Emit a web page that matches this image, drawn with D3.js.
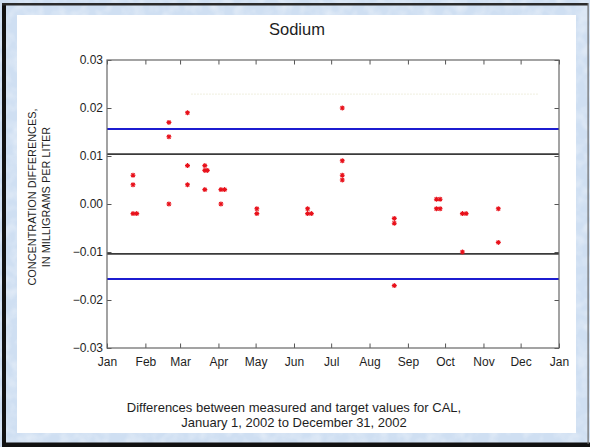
<!DOCTYPE html>
<html>
<head>
<meta charset="utf-8">
<script src="https://cdn.jsdelivr.net/npm/d3@7"></script>
<style>
  html, body { margin: 0; padding: 0; background: #ffffff; }
  svg { display: block; }
  text { font-family: "Liberation Sans", Arial, Helvetica, sans-serif; fill: #1e1e1e; }
</style>
</head>
<body>
<svg id="chart" width="590" height="447"></svg>
<script>
// Sample dates (2002) and measured-minus-target differences, mg/L
const sampleDates = [
  "2002-01-22", "2002-01-22", "2002-01-22", "2002-01-25",
  "2002-02-20", "2002-02-20", "2002-02-20",
  "2002-03-07", "2002-03-07", "2002-03-07",
  "2002-03-21", "2002-03-21", "2002-03-21", "2002-03-23",
  "2002-04-03", "2002-04-03", "2002-04-06",
  "2002-05-02", "2002-05-02",
  "2002-06-12", "2002-06-12", "2002-06-15",
  "2002-07-10", "2002-07-10", "2002-07-10", "2002-07-10",
  "2002-08-21", "2002-08-21", "2002-08-21",
  "2002-09-24", "2002-09-24", "2002-09-27", "2002-09-27",
  "2002-10-15", "2002-10-15", "2002-10-18",
  "2002-11-13", "2002-11-13"
];
const differences = [
  0.006, 0.004, -0.002, -0.002,
  0.017, 0.014, 0.000,
  0.019, 0.008, 0.004,
  0.008, 0.007, 0.003, 0.007,
  0.003, 0.000, 0.003,
  -0.001, -0.002,
  -0.001, -0.002, -0.002,
  0.020, 0.009, 0.006, 0.005,
  -0.003, -0.004, -0.017,
  0.001, -0.001, 0.001, -0.001,
  -0.002, -0.010, -0.002,
  -0.001, -0.008
];

// Reference limits drawn across the year
const innerLimits = [0.0104, -0.0104];
const outerLimits = [0.0156, -0.0156];

// Axis ticks
const yTickValues = [0.03, 0.02, 0.01, 0.00, -0.01, -0.02, -0.03];
const yTickLabels = ["0.03", "0.02", "0.01", "0.00", "\u22120.01", "\u22120.02", "\u22120.03"];
const monthLabels = ["Jan", "Feb", "Mar", "Apr", "May", "Jun", "Jul", "Aug", "Sep", "Oct", "Nov", "Dec", "Jan"];

const titleText = "Sodium";
const yLabelLines = ["CONCENTRATION DIFFERENCES,", "IN MILLIGRAMS PER LITER"];
const footerLines = [
  "Differences between measured and target values for CAL,",
  "January 1, 2002 to December 31, 2002"
];

const svg = d3.select("#chart");
const W = 590, H = 447;

// ---- frame: mottled light-blue backdrop, dark edge, white panel ----
const defs = svg.append("defs");
const f = defs.append("filter").attr("id", "mottle")
  .attr("x", 0).attr("y", 0).attr("width", "100%").attr("height", "100%");
f.append("feTurbulence").attr("type", "fractalNoise")
  .attr("baseFrequency", "0.09").attr("numOctaves", 2).attr("seed", 4);
f.append("feColorMatrix").attr("type", "matrix")
  .attr("values", "0 0 0 0 1  0 0 0 0 1  0 0 0 0 1  0 0 0 1.4 -0.55");

svg.append("rect").attr("width", W).attr("height", H).attr("fill", "#cfdff2");
svg.append("rect").attr("width", W).attr("height", H).attr("filter", "url(#mottle)").attr("opacity", 0.55);

// dark edge on left, top and bottom
svg.append("rect").attr("x", 2).attr("y", 3).attr("width", 4).attr("height", 441).attr("fill", "#111");
svg.append("rect").attr("x", 2).attr("y", 3).attr("width", 586).attr("height", 2.5).attr("fill", "#2a2a2a");
svg.append("rect").attr("x", 2).attr("y", 442.5).attr("width", 588).attr("height", 4.5).attr("fill", "#111");
svg.append("rect").attr("x", 587.5).attr("y", 3).attr("width", 1.2).attr("height", 441).attr("fill", "#6a6a6a");

svg.append("rect").attr("x", 17).attr("y", 15).attr("width", 559).attr("height", 418).attr("fill", "#ffffff");

// ---- plot area ----
const plot = { left: 107, right: 559, top: 60, bottom: 348 };

const x = d3.scaleTime()
  .domain([new Date(2002, 0, 1), new Date(2003, 0, 1)])
  .range([plot.left, plot.right]);
const y = d3.scaleLinear()
  .domain([-0.03, 0.03])
  .range([plot.bottom, plot.top]);

const monthTicks = d3.timeMonth.range(new Date(2002, 0, 1), new Date(2003, 0, 2));
const tickLen = 4.5;

// faint dotted trace in the upper band
svg.append("line")
  .attr("x1", x(new Date(2002, 2, 10))).attr("x2", x(new Date(2002, 11, 15)))
  .attr("y1", y(0.0229)).attr("y2", y(0.0229))
  .attr("stroke", "#efeedd").attr("stroke-width", 1.2)
  .attr("stroke-dasharray", "1.5,1.5");

// limit lines
const limitG = svg.append("g");
limitG.selectAll("line.inner").data(innerLimits).join("line")
  .attr("class", "inner")
  .attr("x1", plot.left).attr("x2", plot.right)
  .attr("y1", d => y(d)).attr("y2", d => y(d))
  .attr("stroke", "#3a3a3a").attr("stroke-width", 1.8);
limitG.selectAll("line.outer").data(outerLimits).join("line")
  .attr("class", "outer")
  .attr("x1", plot.left).attr("x2", plot.right)
  .attr("y1", d => y(d)).attr("y2", d => y(d))
  .attr("stroke", "#1c1cd0").attr("stroke-width", 2);

// axes: inward ticks on all four sides
const fmtMonth = (d, i) => monthLabels[i];
const axisBottom = d3.axisBottom(x).tickValues(monthTicks).tickFormat(fmtMonth)
  .tickSizeInner(-tickLen).tickSizeOuter(0).tickPadding(10);
const axisTop = d3.axisTop(x).tickValues(monthTicks).tickFormat("")
  .tickSizeInner(-tickLen).tickSizeOuter(0);
const axisLeft = d3.axisLeft(y).tickValues(yTickValues)
  .tickFormat((d, i) => yTickLabels[i])
  .tickSizeInner(-tickLen).tickSizeOuter(0).tickPadding(4);
const axisRight = d3.axisRight(y).tickValues(yTickValues).tickFormat("")
  .tickSizeInner(-tickLen).tickSizeOuter(0);

function styleAxis(g) {
  g.select(".domain").remove();
  g.selectAll(".tick line").attr("stroke", "#555").attr("stroke-width", 1);
  g.selectAll(".tick text")
    .style("font-family", "'Liberation Sans', Arial, sans-serif")
    .style("font-size", "12px").attr("fill", "#1e1e1e");
}

svg.append("g").attr("transform", `translate(0,${plot.bottom})`).call(axisBottom).call(styleAxis)
  .selectAll(".tick text").attr("dy", "0.71em").attr("y", 9.5);
svg.append("g").attr("transform", `translate(0,${plot.top})`).call(axisTop).call(styleAxis);
svg.append("g").attr("transform", `translate(${plot.left},0)`).call(axisLeft).call(styleAxis);
svg.append("g").attr("transform", `translate(${plot.right},0)`).call(axisRight).call(styleAxis);

// plot box
svg.append("rect")
  .attr("x", plot.left).attr("y", plot.top)
  .attr("width", plot.right - plot.left).attr("height", plot.bottom - plot.top)
  .attr("fill", "none").attr("stroke", "#666").attr("stroke-width", 1.2);

// asterisk markers
const r = 2.5, dd = r * 0.72;
const starPath = `M${-r},0L${r},0M0,${-r}L0,${r}M${-dd},${-dd}L${dd},${dd}M${-dd},${dd}L${dd},${-dd}`;
const parse = d3.timeParse("%Y-%m-%d");
const points = sampleDates.map((s, i) => ({ date: parse(s), value: differences[i] }));

svg.append("g").selectAll("path").data(points).join("path")
  .attr("transform", d => `translate(${x(d.date)},${y(d.value)})`)
  .attr("d", starPath)
  .attr("stroke", "#e8101a").attr("stroke-width", 1.1).attr("fill", "none");

// title
svg.append("text").attr("x", 297).attr("y", 35)
  .attr("text-anchor", "middle").style("font-size", "16.5px")
  .text(titleText);

// y label, two rotated lines
const yl = svg.append("text")
  .attr("transform", "translate(35.5,197) rotate(-90)")
  .attr("text-anchor", "middle").style("font-size", "10.9px");
yl.selectAll("tspan").data(yLabelLines).join("tspan")
  .attr("x", 0).attr("dy", (d, i) => i === 0 ? 0 : 14.8)
  .text(d => d);

// footer
svg.append("g").selectAll("text").data(footerLines).join("text")
  .attr("x", 294).attr("y", (d, i) => 411.5 + i * 15.5)
  .attr("text-anchor", "middle").style("font-size", "13px")
  .text(d => d);
</script>
</body>
</html>
